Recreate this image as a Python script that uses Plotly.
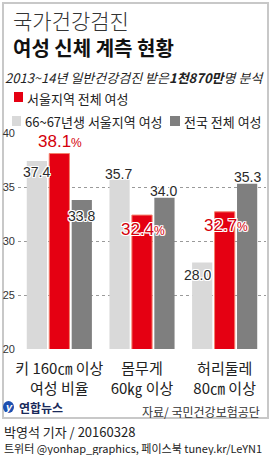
import plotly.graph_objects as go

# ---------------- data ----------------
categories = ["키 160㎝ 이상<br>여성 비율", "몸무게<br>60㎏ 이상", "허리둘레<br>80㎝ 이상"]
series_names = ["66~67년생 서울지역 여성", "서울지역 전체 여성", "전국 전체 여성"]
born6667_seoul = [37.4, 35.7, 28.0]
seoul_all = [38.1, 32.4, 32.7]
nation_all = [33.8, 34.0, 35.3]
y_ticks = [20, 25, 30, 35, 40]

# ---------------- style ----------------
W, H = 270, 455
PL, PR, PT, PB = 18, 266, 133, 349  # plot area in px
C_LIGHT, C_RED, C_DARK = "#d9d9d9", "#e50012", "#7f7f7f"
KR = "Noto Sans CJK KR, Noto Sans, sans-serif"
NUM = "Liberation Sans Narrow, Arial Narrow, Liberation Sans, Arial, sans-serif"
OUTLINE = ("white 1px 0px 0px, white -1px 0px 0px, white 0px 1px 0px, white 0px -1px 0px, "
           "white 1px 1px 0px, white -1px -1px 0px, white 1px -1px 0px, white -1px 1px 0px")


def px(x):
    return (x - PL) / (PR - PL)


def py(y):
    return (PB - y) / (PB - PT)


fig = go.Figure()
series = [(born6667_seoul, C_LIGHT, "#d9d9d9", 0), (seoul_all, C_RED, "#f4826e", 1), (nation_all, C_DARK, "#7f7f7f", 0)]
for name, (vals, col, lcol, lw) in zip(series_names, series):
    fig.add_trace(go.Bar(x=categories, y=vals, name=name, marker=dict(color=col, line=dict(color=lcol, width=lw)),
                         showlegend=False, hoverinfo="skip"))

bargap, bargroupgap = 0.185, 0.1
cat_w = (PR - PL) / len(categories)
slot = cat_w * (1 - bargap) / 3
offsets = [-slot, 0, slot]

# label nudges (px): style only
gray_dy = {0: [-11, 5, -12], 2: [-16, 7, 7]}
gray_dx = {0: [0, -1, -5], 2: [0, -1, 0]}
red_dy = [12, -14, -14]

ann = []
for si, vals in [(0, born6667_seoul), (2, nation_all)]:
    for ci, v in enumerate(vals):
        ann.append(dict(x=categories[ci], y=v, xref="x", yref="y", text=f"{v:.1f}", showarrow=False,
                        xshift=offsets[si] + gray_dx[si][ci], yshift=gray_dy[si][ci], yanchor="middle",
                        font=dict(family=NUM, size=14, color="#2a2a2a", shadow=OUTLINE)))
for ci, v in enumerate(seoul_all):
    ann.append(dict(x=categories[ci], y=v, xref="x", yref="y",
                    text=f"{v:.1f}<span style='font-size:12px'>%</span>", showarrow=False,
                    xshift=offsets[1] + 1, yshift=red_dy[ci], yanchor="middle",
                    font=dict(family=NUM, size=17, color="#d4000c", shadow=OUTLINE)))


def txt(x, y, s, size, color="#222222", xanchor="left", family=KR, weight=None, style=None):
    f = dict(family=family, size=size, color=color)
    if weight:
        f["weight"] = weight
    if style:
        f["style"] = style
    ann.append(dict(x=px(x), y=py(y), xref="paper", yref="paper", text=s, showarrow=False,
                    xanchor=xanchor, yanchor="middle", font=f))


txt(11, 20, "국가건강검진", 21, color="#333333", weight=300)
txt(11, 47, "여성 신체 계측 현황", 20, color="#111111", weight=700)
txt(3, 77, "2013~14년 일반건강검진 받은<b>1천870만</b>명 분석", 13, color="#222222", style="italic")
txt(25, 98, "서울지역 전체 여성", 13)
txt(23, 121, "66~67년생 서울지역 여성", 13)
txt(182, 121, "전국 전체 여성", 13)
txt(262, 411, "자료/ 국민건강보험공단", 12, color="#333333", xanchor="right")
txt(17, 407, "<b>연합뉴스</b>", 12, color="#1a2a5a")
txt(2, 431, "박영석 기자 / 20160328", 13, color="#222222")
txt(2, 448, "트위터 @yonhap_graphics, 페이스북 tuney.kr/LeYN1", 11, color="#222222")
txt(8.5, 407, "<i><b>y</b></i>", 11, color="white", xanchor="center", family="Liberation Sans, Arial")

shapes = []


def rect(x0, y0, x1, y1, fill, line=None, lw=0):
    shapes.append(dict(type="rect", xref="paper", yref="paper", x0=px(x0), x1=px(x1), y0=py(y1), y1=py(y0),
                       fillcolor=fill, line=dict(color=line or fill, width=lw), layer="above"))


shapes.append(dict(type="rect", xref="paper", yref="paper", x0=px(3), x1=px(268), y0=py(418), y1=py(3),
                   line=dict(color="#c8c8c8", width=2), fillcolor="rgba(0,0,0,0)", layer="below"))
rect(14, 92, 23, 102, C_RED)
rect(12, 116, 21, 126, C_LIGHT)
rect(170, 116, 180, 126, C_DARK)
shapes.append(dict(type="circle", xref="paper", yref="paper", x0=px(3), x1=px(14), y0=py(413), y1=py(401),
                   fillcolor="#1d4fb0", line=dict(color="#1d4fb0", width=0), layer="above"))

fig.update_layout(
    width=W, height=H, margin=dict(l=PL, r=W - PR, t=PT, b=H - PB),
    paper_bgcolor="white", plot_bgcolor="white",
    barmode="group", bargap=bargap, bargroupgap=bargroupgap,
    annotations=ann, shapes=shapes, showlegend=False,
    xaxis=dict(tickfont=dict(family=KR, size=15, color="#222222"), showgrid=False, showline=False,
               ticks="", ticklabelstandoff=9, fixedrange=True),
    yaxis=dict(range=[20, 40], tickvals=y_ticks, tickfont=dict(family=NUM, size=11, color="#333333"),
               showgrid=True, gridcolor="#9a9a9a", griddash="dot", gridwidth=1, zeroline=False,
               showline=False, ticks="", ticklabelstandoff=2, fixedrange=True),
)

fig.write_html("out.html")
